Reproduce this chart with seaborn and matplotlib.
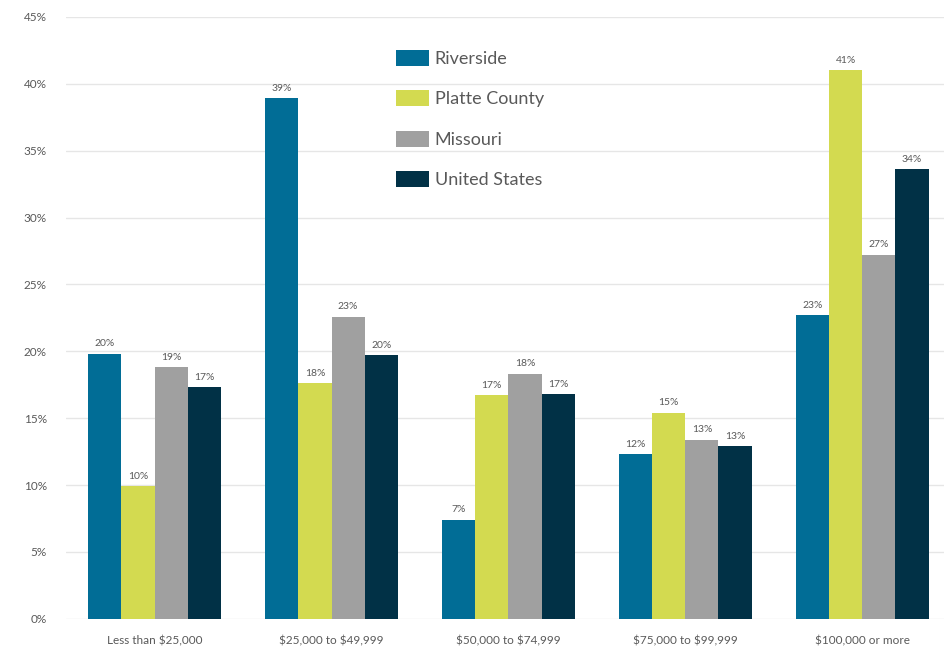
import matplotlib
matplotlib.use("Agg")
import matplotlib.pyplot as plt
import seaborn as sns
import pandas as pd
from matplotlib.ticker import FuncFormatter

categories = ["Less than $25,000", "$25,000 to $49,999", "$50,000 to $74,999",
              "$75,000 to $99,999", "$100,000 or more"]
series = ["Riverside", "Platte County", "Missouri", "United States"]
riverside = [19.8, 38.9, 7.4, 12.3, 22.7]
platte = [9.9, 17.6, 16.7, 15.4, 41.0]
missouri = [18.8, 22.6, 18.3, 13.4, 27.2]
united_states = [17.3, 19.7, 16.8, 12.9, 33.6]
colors = ["#016d96", "#d3da50", "#a0a0a0", "#013146"]

rows = []
for name, vals in zip(series, [riverside, platte, missouri, united_states]):
    for c, v in zip(categories, vals):
        rows.append({"Income": c, "Area": name, "Value": v})
df = pd.DataFrame(rows)

sns.set_theme(style="white")
plt.rcParams["font.family"] = ["Lato", "DejaVu Sans"]
plt.rcParams["text.parse_math"] = False
txt = "#595959"

fig = plt.figure(figsize=(9.45, 6.5), dpi=100)
ax = fig.add_axes([0.070, 0.048, 0.936, 0.926])
sns.barplot(data=df, x="Income", y="Value", hue="Area", order=categories,
            hue_order=series, palette=colors, width=0.75, saturation=1,
            linewidth=0, edgecolor="none", ax=ax, zorder=3, legend=True)

for cont in ax.containers:
    labels = [f"{round(b.get_height()):d}%" for b in cont]
    ax.bar_label(cont, labels=labels, padding=4, fontsize=7.5, color=txt)

ax.set_ylim(0, 45)
ax.set_xlim(-0.5, 4.5)
ax.set_yticks(range(0, 46, 5))
ax.yaxis.set_major_formatter(FuncFormatter(lambda v, p: f"{int(v)}%"))
ax.grid(axis="y", color="#e6e6e6", linewidth=1, zorder=0)
ax.set_axisbelow(True)
for s in ax.spines.values():
    s.set_visible(False)
ax.tick_params(axis="y", length=0, pad=14, labelsize=8.5, labelcolor=txt)
ax.tick_params(axis="x", length=0, pad=12, labelsize=8.5, labelcolor=txt)
ax.set_xlabel("")
ax.set_ylabel("")

handles, labels = ax.get_legend_handles_labels()
ax.legend(handles, labels, loc="upper left", bbox_to_anchor=(396 / 945, 1 - 50 / 650),
          bbox_transform=fig.transFigure, frameon=False, fontsize=13,
          handlelength=1.85, handleheight=0.95, labelspacing=1.3,
          handletextpad=0.3, borderpad=0, borderaxespad=0, labelcolor=txt)

fig.savefig("out.png", dpi=100, facecolor="white")
